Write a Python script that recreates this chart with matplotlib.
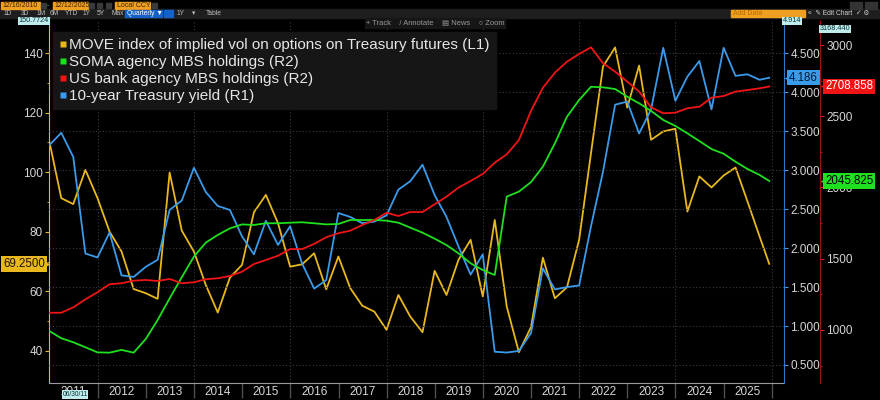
import matplotlib
matplotlib.use("Agg")
import matplotlib.pyplot as plt
import matplotlib.transforms as mtrans
import pandas as pd
from matplotlib.lines import Line2D
from matplotlib.patches import Rectangle

# quarterly observations, last one is the partial quarter
dates = list(pd.date_range("2010-12-31", periods=60, freq="QE")) + [pd.Timestamp("2025-12-12")]

# MOVE index (left axis)
move = [110.3, 91.3, 89.3, 100.8, 91.3, 80.1, 73.4, 60.8, 59.4, 57.5, 99.9,
        80.4, 73.4, 62.2, 52.9, 64.6, 68.9, 86.5, 92.4, 82.9, 68.3,
        69.1, 72.8, 60.7, 71.7, 61.1, 55.2, 53.2, 47.1, 58.8, 51.5,
        46.3, 66.9, 58.8, 70.6, 77.3, 58.3, 84.0, 54.9, 39.6, 48.0,
        71.3, 57.7, 61.4, 77.3, 106.4, 135.5, 141.9, 121.7, 135.8, 110.9,
        113.7, 114.6, 86.8, 98.6, 94.9, 98.9, 101.6, 90.2, 78.4, 69.25]
# SOMA agency MBS holdings, $bn (R2)
soma = [993, 942, 914, 879, 843, 841, 860, 841, 937, 1070, 1222,
        1370, 1515, 1613, 1667, 1713, 1741, 1737, 1749, 1749, 1753,
        1756, 1749, 1741, 1744, 1772, 1772, 1772, 1767, 1753, 1718,
        1683, 1641, 1596, 1538, 1468, 1421, 1386, 1936, 1971, 2038,
        2146, 2310, 2497, 2614, 2707, 2703, 2691, 2637, 2591, 2537,
        2474, 2432, 2380, 2326, 2270, 2237, 2181, 2130, 2088, 2045.825]
# US bank agency MBS holdings, $bn (R2)
bank = [1121, 1121, 1159, 1215, 1265, 1321, 1328, 1346, 1351, 1344, 1358,
        1328, 1335, 1356, 1363, 1379, 1409, 1463, 1491, 1521, 1568,
        1568, 1604, 1651, 1679, 1697, 1737, 1772, 1823, 1800, 1828,
        1828, 1882, 1936, 1999, 2046, 2095, 2174, 2233, 2333, 2538,
        2700, 2806, 2883, 2937, 2984, 2872, 2813, 2743, 2673, 2563,
        2521, 2525, 2556, 2567, 2630, 2642, 2673, 2684, 2696, 2708.858]
# 10-year Treasury yield (R1)
ust10 = [3.32, 3.48, 3.17, 1.93, 1.88, 2.20, 1.65, 1.63, 1.76, 1.85, 2.49,
         2.61, 3.03, 2.72, 2.54, 2.49, 2.15, 1.92, 2.35, 2.04, 2.28,
         1.80, 1.48, 1.59, 2.45, 2.40, 2.32, 2.34, 2.42, 2.75, 2.86,
         3.07, 2.68, 2.40, 2.02, 1.66, 1.92, 0.67, 0.66, 0.68, 0.91,
         1.74, 1.47, 1.50, 1.52, 2.28, 2.98, 3.84, 3.88, 3.47, 3.78,
         4.57, 3.89, 4.20, 4.40, 3.78, 4.57, 4.21, 4.23, 4.16, 4.186]

series_names = ["MOVE index of implied vol on options on Treasury futures (L1)",
                "SOMA agency MBS holdings (R2)",
                "US bank agency MBS holdings (R2)",
                "10-year Treasury yield (R1)"]
year_labels = list(range(2011, 2026))

YEL = "#E8B81C"
GRN = "#1EE01E"
RED = "#F01414"
BLU = "#3A9BEA"
TXT = "#D6D6D6"

W, H = 880, 400
plt.rcParams["font.family"] = ["Liberation Sans", "DejaVu Sans"]
fig = plt.figure(figsize=(8.8, 4), dpi=100, facecolor="black")


def fbox(x0, y0, x1, y1, color):
    # rectangle in figure pixels, y measured from the top
    fig.patches.append(Rectangle((x0 / W, 1 - y1 / H), (x1 - x0) / W, (y1 - y0) / H,
                                 transform=fig.transFigure, color=color, zorder=0))


def ftext(x, y, s, color=TXT, size=5, ha="left", **kw):
    fig.text(x / W, 1 - y / H, s, color=color, fontsize=size, ha=ha, va="center", **kw)


# ---- toolbar ----
fbox(0, 9.5, W, 17.5, "#1e1e1e")
for x0, x1, s in [(1, 40, "12/16/2010"), (53, 88, "12/12/2025"), (115, 150, "Local CCY")]:
    fbox(x0, 2, x1, 9, "#F0A020")
    ftext(x0 + 1.5, 5.5, s, color="#3a2000", size=5)
for x0 in [41, 89, 97, 106, 152]:
    fbox(x0, 3, x0 + 5, 8, "#3a3a3a")
ftext(47, 5.5, "-", color="#aaa", size=5)
for x, s in [(4, "1D"), (21, "3D"), (37, "1M"), (50, "6M"), (65, "YTD"), (83, "1Y"), (97, "5Y"), (112, "Max"),
             (177, "1Y"), (192, "▾"), (206, "Table")]:
    ftext(x, 13.5, s, color="#c0c0c0", size=4.8)
fbox(125, 10, 162, 17, "#1462C8")
ftext(127, 13.5, "Quarterly ▼", color="white", size=4.8)
fbox(164, 10, 173, 17, "#1462C8")
fbox(731, 10, 805, 17, "#F0A020")
ftext(733, 13.5, "Add Data", color="#B86A00", size=5)
ftext(808, 13.5, "«  ✎ Edit Chart  ✓ ⚙", color="#d0d0d0", size=4.8)
fbox(850, 2, 862, 9, "#333333")
fbox(865, 2, 877, 9, "#333333")
fbox(365, 18, 505, 28, "#161616")
ftext(435, 23, "+ Track    / Annotate    ▤ News    ○ Zoom", color="#9a9a9a", size=5.4, ha="center")

# ---- axes ----
ax = fig.add_axes([49 / W, 1 - 383 / H, (784 - 49) / W, (383 - 21) / H])
ax.set_facecolor("black")
ax_r1 = ax.twinx()
ax_r2 = ax.twinx()

ax.plot(dates, move, color=YEL, lw=1.3, zorder=3)
ax_r1.plot(dates, ust10, color=BLU, lw=1.3)
ax_r2.plot(dates, soma, color=GRN, lw=1.3)
ax_r2.plot(dates, bank, color=RED, lw=1.3)

ax.set_xlim(pd.Timestamp("2010-12-28"), pd.Timestamp("2026-04-03"))
ax.set_ylim(29.25, 150.7724)
ax_r1.set_ylim(0.269, 4.914)
ax_r2.set_ylim(628, 3168.44)

# x axis: separators at year starts, labels mid-year
ax.set_xticks([pd.Timestamp(f"{y + 1}-01-01") for y in year_labels])
ax.set_xticks([pd.Timestamp(f"{y}-07-01") for y in year_labels], minor=True)
ax.set_xticklabels([])
ax.set_xticklabels([str(y) for y in year_labels], minor=True)
ax.tick_params(axis="x", which="major", length=11, width=1, color="#505050", direction="out")
ax.tick_params(axis="x", which="minor", length=0, pad=2.5, labelsize=8.5, labelcolor=TXT)

# vertical dotted grid every second year
for y in range(2012, 2027, 2):
    ax.axvline(pd.Timestamp(f"{y}-01-01"), color="#3c3c3c", lw=0.8, ls=(0, (1, 2)), zorder=1)

# left axis
ax.set_yticks(range(40, 141, 20))
ax.set_yticks(range(40, 141, 10), minor=True)
ax.tick_params(axis="y", which="both", color=YEL, labelcolor=TXT, labelsize=8.5, pad=1.5)
ax.tick_params(axis="y", which="major", length=3)
ax.tick_params(axis="y", which="minor", length=1.5)

# R1 (yield)
ax_r1.set_yticks([0.5 * k for k in range(1, 10)])
ax_r1.set_yticklabels([f"{0.5 * k:.3f}" for k in range(1, 10)])
ax_r1.tick_params(axis="y", color=BLU, labelcolor=TXT, labelsize=8.5, length=3, pad=1.5)
ax_r1.grid(axis="y", color="#3c3c3c", lw=0.8, ls=(0, (1, 2)))

# R2 (holdings)
ax_r2.spines["right"].set_position(("axes", (820 - 49) / (784 - 49)))
ax_r2.set_yticks(range(1000, 3001, 500))
ax_r2.set_yticks(range(750, 3001, 250), minor=True)
ax_r2.tick_params(axis="y", which="both", color=RED, labelcolor=TXT, labelsize=8.5, pad=1.5)
ax_r2.tick_params(axis="y", which="major", length=3)
ax_r2.tick_params(axis="y", which="minor", length=1.5)

for a in (ax, ax_r1, ax_r2):
    a.spines["top"].set_visible(False)
ax.spines["right"].set_visible(False)
ax.spines["left"].set_color(YEL)
ax.spines["bottom"].set_color("#9a9a9a")
for a in (ax_r1, ax_r2):
    a.spines["left"].set_visible(False)
    a.spines["bottom"].set_visible(False)
ax_r1.spines["right"].set_color("#2f78c8")
ax_r2.spines["right"].set_color("#a01010")


# last-value tags on the axes
def tag(a, xax, val, s, fc, tc, side):
    tr = mtrans.blended_transform_factory(a.transAxes, a.transData)
    off = -4 if side == "left" else 5
    a.annotate(s, xy=(xax, val), xycoords=tr, xytext=(off, 0), textcoords="offset pixels",
               ha="right" if side == "left" else "left", va="center", fontsize=8.3, color=tc,
               bbox=dict(boxstyle="square,pad=0.15", fc=fc, ec="none"), annotation_clip=False)
    shift = mtrans.ScaledTranslation(-0.025 if side == "left" else 0.03, 0, fig.dpi_scale_trans)
    a.plot([xax], [val], transform=tr + shift, marker=">" if side == "left" else "<",
           ms=5, color=fc, clip_on=False, mec="none")


tag(ax, 0, move[-1], f"{move[-1]:.4f}", YEL, "#1a1400", "left")
tag(ax_r1, 1, ust10[-1], f"{ust10[-1]:.3f}", BLU, "#001a33", "right")
r2x = (820 - 49) / (784 - 49)
tag(ax_r2, r2x, bank[-1], f"{bank[-1]:.3f}", RED, "white", "right")
tag(ax_r2, r2x, soma[-1], f"{soma[-1]:.3f}", GRN, "black", "right")

# axis-top values and the start-date marker
small = dict(bbox=dict(boxstyle="square,pad=0.12", fc="#BFEDED", ec="none"))
ftext(34, 21, f"{ax.get_ylim()[1]:.4f}", color="#0a3030", size=5.2, ha="center", **small)
ftext(792, 21, f"{ax_r1.get_ylim()[1]:.3f}", color="#0a3030", size=5.2, ha="center", **small)
ftext(835, 29, f"{ax_r2.get_ylim()[1]:.3f}", color="#0a3030", size=5.2, ha="center", **small)
ftext(75, 394.5, "06/30/11", color="#0a3030", size=4.8, ha="center", **small)

# legend
handles = [Line2D([], [], marker="s", ls="none", ms=5, color=c, mec="none") for c in (YEL, GRN, RED, BLU)]
leg = ax_r2.legend(handles, series_names, loc="upper left", bbox_to_anchor=(53 / W, 1 - 32 / H),
                   bbox_transform=fig.transFigure, fontsize=11, labelcolor="#E6E6E6",
                   frameon=True, fancybox=False, facecolor="#161616", edgecolor="#161616", framealpha=1,
                   handlelength=0.45, handletextpad=0.2, labelspacing=0.2, borderpad=0.4, borderaxespad=0)

fig.savefig("out.png", dpi=100, facecolor="black")
